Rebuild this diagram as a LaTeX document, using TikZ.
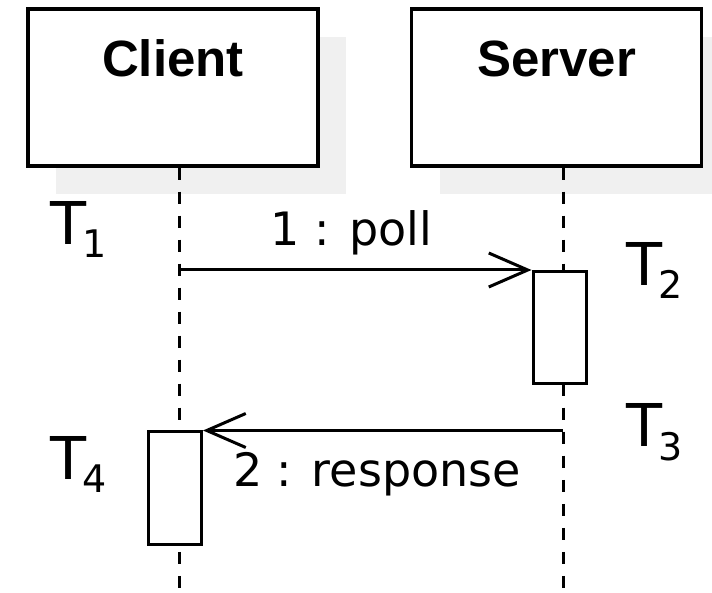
\documentclass[tikz,border=0pt]{standalone}
\usepackage{fontspec}
\setmainfont{DejaVu Sans}
\newfontfamily\headfont{Liberation Sans}
\usetikzlibrary{arrows.meta}
\usetikzlibrary{shadows}
\usetikzlibrary{positioning}

\tikzset{
  actor/.style={draw, line width=3.5pt, fill=white, inner sep=0pt,
    minimum width=290pt, text height=68pt, text depth=89pt,
    font=\headfont\bfseries\fontsize{51}{61}\selectfont,
    drop shadow={shadow xshift=28pt, shadow yshift=-28pt, opacity=1, fill=black!6}},
  activation/.style={draw, line width=3pt, fill=white, inner sep=0pt,
    minimum width=53pt, minimum height=112pt},
  lifeline/.style={line width=3pt, dash pattern=on 12pt off 12pt},
  msg/.style={line width=3pt, -{Straight Barb[length=39pt, width=34pt, line width=3pt]}},
  msglabel/.style={font=\fontsize{46}{55}\selectfont, anchor=base, inner sep=0pt},
  tick/.style={font=\fontsize{59}{70}\selectfont, anchor=base west, inner sep=0pt}
}
\newcommand{\tmark}[1]{T\kern-4pt\raisebox{-13pt}{\fontsize{38}{46}\selectfont #1}}

\begin{document}
\begin{tikzpicture}[x=1pt, y=1pt]
\useasboundingbox (0,0) rectangle (712,592);

\node[actor, anchor=base] (client) at (173,515) {Client};
\node[actor, anchor=base] (server) at (556.5,515) {Server};

% lifelines
\coordinate (client end) at (179,0);
\coordinate (server end) at (563,0);
\draw[lifeline] (client.south -| client end) -- (client end);
\draw[lifeline] (server.south -| server end) -- (server end);

\node[activation] (server act) at (559.5,264.5) {};
\node[activation] (client act) at (175,104) {};

% messages
\draw[msg] (server act.north west -| client end) -- node[msglabel, yshift=24pt, xshift=-4pt] {1 : poll} (server act.north west);
\draw[msg] (client act.north east -| server end) -- node[msglabel, yshift=-56pt, xshift=-6pt] {2 : response} (client act.north east);

\node[tick] (t1) at (50,347) {\tmark{1}};
\node[tick] (t2) at (626,306) {\tmark{2}};
\node[tick] (t3) at (626,145) {\tmark{3}};
\node[tick] (t4) at (50,113) {\tmark{4}};
\end{tikzpicture}
\end{document}
